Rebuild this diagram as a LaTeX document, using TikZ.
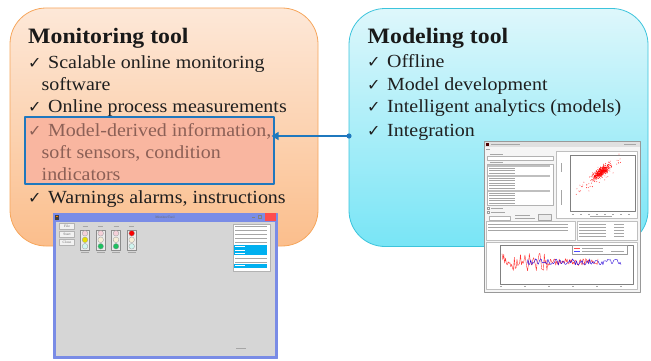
\documentclass[tikz,border=0pt]{standalone}
\usepackage{fontspec}
\setmainfont[FakeStretch=1.08]{Liberation Serif}
\newfontfamily\symfont{DejaVu Sans}
\usetikzlibrary{arrows.meta}

\definecolor{peachtop}{RGB}{253,232,216}
\definecolor{peachbot}{RGB}{251,190,140}
\definecolor{peachline}{RGB}{246,166,92}
\definecolor{cyantop}{RGB}{222,247,251}
\definecolor{cyanbot}{RGB}{120,229,246}
\definecolor{cyanline}{RGB}{60,196,220}
\definecolor{salmon}{RGB}{249,182,160}
\definecolor{linkblue}{RGB}{31,120,190}
\definecolor{dimtext}{RGB}{140,96,86}
\definecolor{winblue}{RGB}{122,140,230}
\definecolor{wingrey}{RGB}{214,214,214}
\definecolor{selblue}{RGB}{0,176,240}
\definecolor{lamppink}{RGB}{244,208,216}
\definecolor{lampcream}{RGB}{246,238,214}
\definecolor{lampcyan}{RGB}{208,244,238}
\definecolor{lampyellow}{RGB}{232,224,0}
\definecolor{lampgreen}{RGB}{30,192,96}
\definecolor{lampred}{RGB}{250,0,0}

\newcommand{\ck}{\makebox[20pt][l]{\symfont\fontsize{16}{16}\selectfont ✓}}

\begin{document}
\begin{tikzpicture}[x=1pt,y=-1pt,line join=round]
\tikzstyle{panel} = [rounded corners=36pt, line width=0.8pt, minimum height=238pt, inner sep=0pt]
\tikzstyle{head} = [anchor=base west, inner sep=0pt, text=black!90, font=\fontsize{22}{22}\selectfont\bfseries]
\tikzstyle{item} = [anchor=base west, inner sep=0pt, text=black!88, font=\fontsize{18.5}{18.5}\selectfont]
\tikzstyle{tiny} = [inner sep=0pt, font=\fontsize{3.5}{3.5}\selectfont, text=black!60]
\tikzstyle{fakeline} = [draw=black!35, line width=0.7pt]

\useasboundingbox (0,0) rectangle (651,361);

% the two tool boxes
\node[panel, draw=peachline, top color=peachtop, bottom color=peachbot, minimum width=308pt] (mon) at (164,127) {};
\node[panel, draw=cyanline, top color=cyantop, bottom color=cyanbot, minimum width=299pt] (mod) at (498.5,127.5) {};

\node[draw=linkblue, line width=1.2pt, fill=salmon, minimum width=249pt, minimum height=67pt, inner sep=0pt] (hl) at (149.5,150.5) {};

\node[head] (monhead) at (28,44) {Monitoring tool};
\node[item] (m1) at (28,69) {\ck Scalable online monitoring};
\node[item] (m1b) at (41.5,91) {software};
\node[item] (m2) at (28,113) {\ck Online process measurements};
\node[item, text=dimtext] (m3) at (28,136) {\ck Model-derived information,};
\node[item, text=dimtext] (m3b) at (41.5,158) {soft sensors, condition};
\node[item, text=dimtext] (m3c) at (41.5,180) {indicators};
\node[item] (m4) at (28,203) {\ck Warnings alarms, instructions};

\node[head] (modhead) at (367.5,44) {Modeling tool};
\node[item] (d1) at (367,68) {\ck Offline};
\node[item] (d2) at (367,91) {\ck Model development};
\node[item] (d3) at (367,113) {\ck Intelligent analytics (models)};
\node[item] (d4) at (367,136) {\ck Integration};

% link between the boxes
\coordinate (dot) at (349,136);
\draw[linkblue, line width=1.5pt, -{Triangle[width=8pt,length=7pt]}, shorten >=-3pt] (dot) -- (dot -| hl.east);
\fill[linkblue] (dot) circle (2.6pt);

% monitoring tool window
\draw[fill=winblue, draw=winblue] (53,213) rectangle (277,358);
\fill[wingrey] (55.5,222) rectangle (274.5,355.5);
\fill[black!75] (55,214.5) rectangle (58.5,219.5);
\fill[orange] (56,215.5) rectangle (57.5,217);
\node[tiny] (montitle) at (165,217.5) {MonitorTool};
\fill[red!70] (265,213) rectangle (276,220.5);
\draw[black!50, line width=0.4pt] (252,217) -- (255,217);
\draw[black!50, line width=0.4pt] (258,215.5) rectangle (261,218.5);
\foreach \y/\t [count=\i] in {226.5/File, 234.5/Start, 242.5/Close}
  \node[tiny, draw=black!30, fill=black!5, minimum width=15pt, minimum height=6pt] (btn\i) at (67,\y) {\t};
\foreach \x/\a/\b/\c [count=\i] in {85/lamppink/lampyellow/lampcyan, 100.7/lamppink/lampcream/lampgreen, 116/lamppink/lampcream/lampgreen, 131.7/lampred/lampcream/lampcyan} {
  \node[draw=black!45, fill=black!8, minimum width=9pt, minimum height=20pt, inner sep=0pt] (lamp\i) at (\x,239.7) {};
  \filldraw[fill=\a, draw=black!40, line width=0.3pt] (\x,233.3) circle (2.8pt);
  \filldraw[fill=\b, draw=black!40, line width=0.3pt] (\x,239.8) circle (2.8pt);
  \filldraw[fill=\c, draw=black!40, line width=0.3pt] (\x,246.3) circle (2.8pt);
  \draw[fakeline, line width=0.5pt] (\x-2.5,226.5) -- (\x+2.5,226.5);
  \draw[fakeline, line width=0.5pt] (\x-4,252.5) -- (\x+4,252.5);
}
\node[draw=black!30, fill=white, minimum width=37pt, minimum height=47pt, inner sep=0pt] (msgs) at (251.7,247.4) {};
\foreach \y in {226.5,230.5,234.5,238.5,242.5,258,262}
  \draw[fakeline, line width=0.5pt] (235,\y) -- (267,\y);
\fill[selblue] (234,244.5) rectangle (266.5,255);
\fill[selblue] (234,263.5) rectangle (266.5,267.5);
\foreach \y in {246.5,250,253.5,265.5}
  \draw[white, line width=0.5pt] (235,\y) -- (245,\y);
\draw[fakeline, line width=0.5pt] (236,348) -- (246,348);

% modeling tool window
\draw[black!40, fill=black!4] (484,141) rectangle (640,292);
\fill[black!12] (484.5,141.5) rectangle (639.5,147);
\fill[black!70!red] (486,142.5) rectangle (489,145.5);
\draw[fakeline, line width=0.6pt] (491,144.2) -- (520,144.2);
\draw[fakeline, line width=0.6pt] (624,144.2) -- (636,144.2);
\draw[fakeline, line width=0.5pt] (486,149) -- (490,149);
% left column
\draw[fakeline, line width=0.5pt] (490,154) -- (503,154);
\draw[black!30, fill=white] (487,156.5) rectangle (553,160.5);
\draw[fakeline, line width=0.5pt] (490,162.5) -- (503,162.5);
\draw[black!30, fill=white] (487,164) rectangle (553,205.5);
\foreach \y in {165.5,175.5,190.5}
  \fill[black!25] (487.5,\y-1) rectangle (550,\y+1);
\foreach \y in {168,170.5,173,178,180.5,183,185.5,188,193,195.5,198,200.5,203}
  \draw[fakeline, line width=0.4pt] (489,\y) -- (515,\y);
\foreach \y in {208,212}
  \draw[black!40, fill=white, line width=0.3pt] (487,\y-1.2) rectangle (489.4,\y+1.2);
\draw[fakeline, line width=0.4pt] (491,208) -- (503,208);
\draw[fakeline, line width=0.4pt] (491,212) -- (505,212);
\draw[black!30, fill=white] (489,216) rectangle (510,220);
\draw[fakeline, line width=0.4pt] (515,215) -- (530,215);
\draw[fakeline, line width=0.4pt] (515,218.5) -- (535,218.5);
\node[draw=black!35, fill=black!8, minimum width=13pt, minimum height=6pt, inner sep=0pt] (runbtn) at (544.5,217) {};
% scatter plot
\draw[black!25, fill=white] (556,151) rectangle (637.5,218);
\draw[black!50, line width=0.4pt] (570,155) rectangle (635,211.5);
\foreach \x in {572,580,...,634}
  \draw[fakeline, line width=0.4pt] (\x,214) -- (\x+1.5,214);
\draw[fakeline, line width=0.4pt] (590,216.5) -- (612,216.5);
\draw[fakeline, line width=0.4pt] (561,190) -- (561,205);
\draw[fakeline, line width=0.4pt] (561,163) -- (561,172);
\pgfmathsetseed{7}
\foreach \i in {1,...,380} {
  \pgfmathsetmacro{\u}{(rand+rand+rand)*4.2}
  \pgfmathsetmacro{\v}{(rand+rand)*2.2}
  \fill[red] ({601+\u+0.4*\v},{172-0.7*\u+\v}) circle (0.45pt);
}
\foreach \i in {1,...,70} {
  \pgfmathsetmacro{\u}{(rand+rand)*13}
  \pgfmathsetmacro{\v}{(rand+rand)*5}
  \fill[red!80] ({598+\u+0.3*\v},{176-0.75*\u+\v}) circle (0.45pt);
}
% text panels
\draw[black!25, fill=white] (486,221) rectangle (575,240);
\foreach \y in {224,227,230}
  \draw[fakeline, line width=0.4pt] (488,\y) -- (568,\y);
\draw[black!25, fill=white] (577,221) rectangle (637.5,240);
\foreach \y in {224,227,230,233,236}
  {\draw[fakeline, line width=0.4pt] (579,\y) -- (606,\y);
   \draw[fakeline, line width=0.4pt] (614,\y) -- (624,\y);}
% time series plot
\draw[black!25, fill=white] (486,242) rectangle (637.5,289.5);
\draw[black!50, line width=0.4pt] (500,245) rectangle (633,284);
\foreach \x in {500,524,...,632}
  \draw[fakeline, line width=0.4pt] (\x,286.5) -- (\x+2,286.5);
\draw[red!80, line width=0.4pt] plot[domain=502:598, samples=110] (\x,{262+(\x<547 ? 9 : 3.5)*rand});
\draw[blue!70!violet, line width=0.4pt] plot[domain=527:621, samples=100] (\x,{262+3.2*rand});
\draw[black!40, fill=white, line width=0.3pt] (572,245.5) rectangle (627,254);
\draw[red!70, line width=0.4pt] (574,248) -- (580,248);
\draw[blue!70, line width=0.4pt] (574,251.5) -- (580,251.5);
\draw[fakeline, line width=0.4pt] (582,248) -- (603,248);
\draw[fakeline, line width=0.4pt] (582,251.5) -- (603,251.5);
\draw[fakeline, line width=0.4pt] (611,251.5) -- (624,251.5);
\end{tikzpicture}
\end{document}
